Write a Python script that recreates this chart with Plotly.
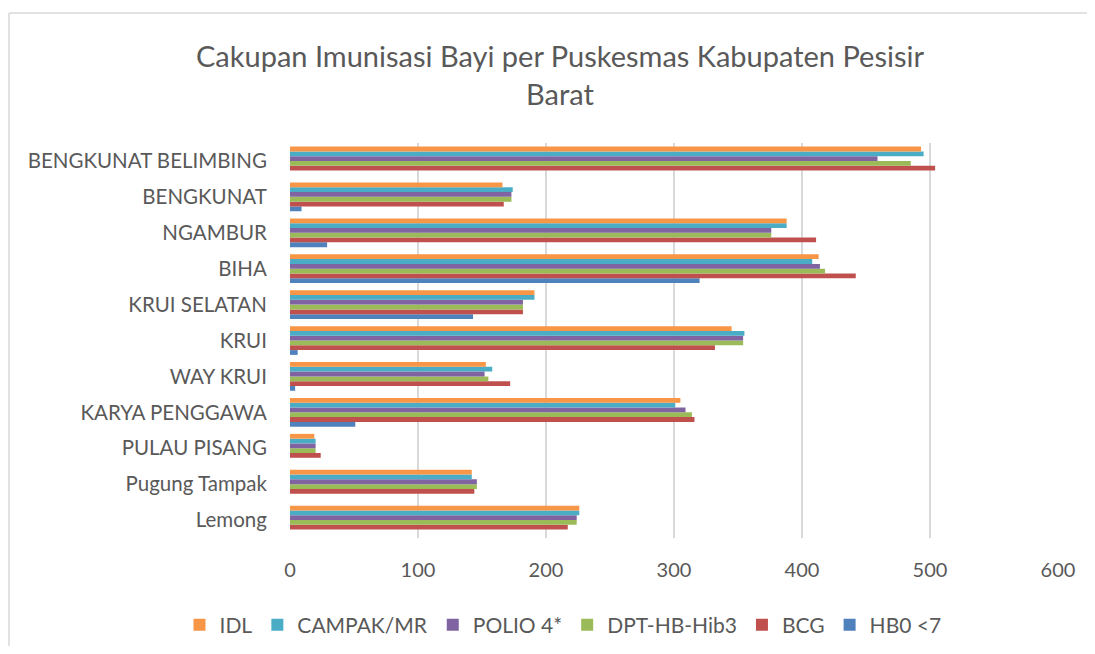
import plotly.graph_objects as go

# Categories from bottom to top (as drawn)
categories = ["Lemong", "Pugung Tampak", "PULAU PISANG", "KARYA PENGGAWA", "WAY KRUI",
              "KRUI", "KRUI SELATAN", "BIHA", "NGAMBUR", "BENGKUNAT", "BENGKUNAT BELIMBING"]

idl      = [226, 142, 19, 305, 153, 345, 191, 413, 388, 166, 493]
campak   = [226, 142, 20, 301, 158, 355, 191, 408, 388, 174, 495]
polio4   = [224, 146, 20, 309, 152, 354, 182, 414, 376, 173, 459]
dpt      = [224, 146, 20, 314, 155, 354, 182, 418, 376, 173, 485]
bcg      = [217, 144, 24, 316, 172, 332, 182, 442, 411, 167, 504]
hb0      = [0, 0, 0, 51, 4, 6, 143, 320, 29, 9, 0]

# traces listed bottom-of-group first
series = [
    ("HB0 <7", hb0, "#4F81BD"),
    ("BCG", bcg, "#C0504D"),
    ("DPT-HB-Hib3", dpt, "#9BBB59"),
    ("POLIO 4*", polio4, "#8064A2"),
    ("CAMPAK/MR", campak, "#4BACC6"),
    ("IDL", idl, "#F79646"),
]

FONT = "Lato, 'Open Sans', sans-serif"
GREY = "#595959"

# page has an 8px body margin; size the figure so nothing scrolls
OFF = 8
W, H = 1095 - 2 * OFF, 654 - 2 * OFF
pl, pr, pt, pb = 290 - OFF, 1058 - OFF, 143 - OFF, 538 - OFF

fig = go.Figure()
for name, vals, color in series:
    fig.add_trace(go.Bar(
        y=categories, x=vals, name=name, orientation="h",
        marker=dict(color=color, line=dict(width=0)),
    ))

fig.update_layout(
    width=W, height=H,
    paper_bgcolor="white", plot_bgcolor="white",
    barmode="group", bargap=0.2, bargroupgap=0,
    margin=dict(l=pl, r=W - pr, t=pt, b=H - pb),
    font=dict(family=FONT, color=GREY, size=20),
    title=dict(
        text="Cakupan Imunisasi Bayi per Puskesmas Kabupaten Pesisir<br>Barat",
        x=(560 - OFF) / W, xanchor="center", y=1 - 59 / H, yanchor="top",
        font=dict(family=FONT, size=29, color=GREY),
    ),
    legend=dict(
        orientation="h", traceorder="reversed",
        x=(563 - OFF) / W, xanchor="center", xref="container",
        y=1 - (625 - OFF) / H, yanchor="middle", yref="container",
        font=dict(family=FONT, size=21, color=GREY),
        itemwidth=30,
    ),
    showlegend=True,
)

fig.update_xaxes(
    range=[0, 600], dtick=100, showgrid=True, gridcolor="#D9D9D9", gridwidth=2,
    zeroline=False, showline=False,
    ticks="outside", ticklen=14, tickcolor="rgba(0,0,0,0)",
    tickfont=dict(family=FONT, size=20, color=GREY),
)
fig.update_yaxes(
    type="category", categoryorder="array", categoryarray=categories,
    showgrid=False, zeroline=False, showline=False,
    ticks="outside", ticklen=18, tickcolor="rgba(0,0,0,0)",
    tickfont=dict(family=FONT, size=20.5, color=GREY),
)

# light chart border: only the left and top edges are visible on the page
def px(x):
    return (x - OFF - pl) / (pr - pl)
def py(y):
    return (pb - (y - OFF)) / (pb - pt)
border = dict(color="#D9D9D9", width=1.5)
fig.add_shape(type="line", xref="paper", yref="paper",
              x0=px(9), x1=px(9), y0=py(13), y1=py(700), line=border, layer="below")
fig.add_shape(type="line", xref="paper", yref="paper",
              x0=px(9), x1=px(1200), y0=py(13), y1=py(13), line=border, layer="below")

fig.write_html("out.html")
